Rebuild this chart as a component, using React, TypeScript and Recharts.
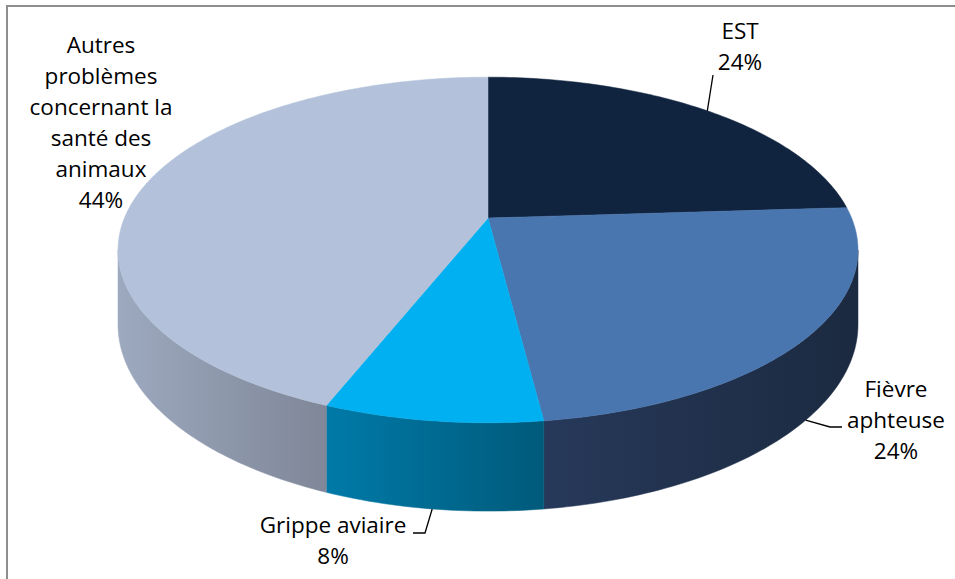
import React from 'react';
import { PieChart, Pie, Cell } from 'recharts';

// categories and their shares (in %)
const CATEGORIES = ['EST', 'Fièvre aphteuse', 'Grippe aviaire', 'Autres problèmes concernant la santé des animaux'];
const SHARES = [24, 24, 8, 44];
// how each label is broken across lines
const LABEL_LINES = [
  ['EST'],
  ['Fièvre', 'aphteuse'],
  ['Grippe aviaire'],
  ['Autres', 'problèmes', 'concernant la', 'santé des', 'animaux'],
];

const TOP_COLORS = ['#10243F', '#4A76B0', '#00B0F0', '#B3C2DA'];
const SIDE_COLORS = [
  ['#0D1D33', '#0A1628'],
  ['#27395A', '#1B2A40'],
  ['#007AA8', '#005A7B'],
  ['#9DA9BF', '#7F8798'],
];

// label boxes (centre x, centre y of first line) and leader bends
const LABEL_LAYOUT = [
  { x: 740, y: 31, leader: [[713, 75]] },
  { x: 896, y: 389, leader: [[842, 427], [830, 427]] },
  { x: 333, y: 525, leader: [[413, 533], [425, 533]] },
  { x: 101, y: 45, leader: null },
];

const FONT = '"Open Sans", sans-serif';
const FONT_SIZE = 22.5;
const LINE_H = 31;

// perspective of the tilted disc
const K = 0.185; // depth foreshortening
const RY = 0.459; // vertical squash
const DEPTH = 0.198; // thickness relative to radius
const RAD = Math.PI / 180;

const data = CATEGORIES.map((name, i) => ({ name, value: SHARES[i] }));

const rim = (cx: number, cy: number, r: number, deg: number, drop: number) => {
  const s = Math.sin(deg * RAD);
  const c = Math.cos(deg * RAD);
  const w = 1 + K * s;
  return [cx + (r * c) / w, cy - (RY * r * s) / w + (drop * DEPTH * r) / w];
};

const arcPoints = (cx: number, cy: number, r: number, a: number, b: number, drop: number) => {
  const n = Math.max(2, Math.ceil(Math.abs(b - a)));
  const pts: number[][] = [];
  for (let k = 0; k <= n; k++) pts.push(rim(cx, cy, r, a + ((b - a) * k) / n, drop));
  return pts;
};

const toPath = (pts: number[][]) => pts.map((p, k) => `${k ? 'L' : 'M'}${p[0].toFixed(2)},${p[1].toFixed(2)}`).join(' ');

const SILHOUETTE = Math.asin(K) / RAD;

const renderSlice = (props: any) => {
  const { cx, cy, outerRadius, startAngle, endAngle } = props;
  const name = props.name ?? props.payload?.name;
  const i = Math.max(0, CATEGORIES.indexOf(name));
  const lo = -180 + SILHOUETTE;
  const hi = -SILHOUETTE;
  const a = Math.max(Math.min(startAngle, endAngle), lo);
  const b = Math.min(Math.max(startAngle, endAngle), hi);
  let side = null;
  if (a < b) {
    const top = arcPoints(cx, cy, outerRadius, a, b, 0);
    const bottom = arcPoints(cx, cy, outerRadius, b, a, 1);
    side = (
      <>
        <defs>
          <linearGradient id={`side-${i}`} x1="0" y1="0" x2="1" y2="0">
            <stop offset="0%" stopColor={SIDE_COLORS[i][0]} />
            <stop offset="100%" stopColor={SIDE_COLORS[i][1]} />
          </linearGradient>
        </defs>
        <path d={toPath([...top, ...bottom]) + ' Z'} fill={`url(#side-${i})`} stroke={`url(#side-${i})`} strokeWidth={0.5} />
      </>
    );
  }
  const face = [[cx, cy], ...arcPoints(cx, cy, outerRadius, startAngle, endAngle, 0)];
  return (
    <g>
      {side}
      <path d={toPath(face) + ' Z'} fill={TOP_COLORS[i]} stroke={TOP_COLORS[i]} strokeWidth={0.5} />
    </g>
  );
};

const renderLabel = (props: any) => {
  const { cx, cy, outerRadius, midAngle, percent, index } = props;
  const layout = LABEL_LAYOUT[index];
  const front = Math.sin(midAngle * RAD) < 0;
  const anchor = rim(cx, cy, outerRadius, midAngle, front ? 1 : 0);
  const lines = [...LABEL_LINES[index], `${Math.round(percent * 100)}%`];
  return (
    <g key={`label-${index}`}>
      {layout.leader && (
        <polyline
          points={[...layout.leader, anchor].map((p) => p.join(',')).join(' ')}
          fill="none"
          stroke="#000"
          strokeWidth={1.3}
        />
      )}
      <text x={layout.x} y={layout.y} textAnchor="middle" fontFamily={FONT} fontSize={FONT_SIZE} fill="#000">
        {lines.map((l, k) => (
          <tspan key={k} x={layout.x} y={layout.y + k * LINE_H + FONT_SIZE * 0.36}>
            {l}
          </tspan>
        ))}
      </text>
    </g>
  );
};

export default function App() {
  return (
    <div style={{ position: 'relative', width: 955, height: 579, overflow: 'hidden', background: '#fff' }}>
      <style>{'body{margin:0}'}</style>
      <div
        style={{
          position: 'absolute',
          left: 6,
          top: 5,
          width: 980,
          height: 620,
          border: '2px solid #8E8E8E',
        }}
      />
      <div style={{ position: 'absolute', left: 0, top: 0 }}>
        <PieChart width={955} height={579} margin={{ top: 0, right: 0, bottom: 0, left: 0 }}>
          <Pie
            data={data}
            dataKey="value"
            nameKey="name"
            cx={488}
            cy={218}
            outerRadius={363.6}
            startAngle={90}
            endAngle={-270}
            stroke="none"
            shape={renderSlice}
            activeShape={renderSlice}
            inactiveShape={renderSlice}
            label={renderLabel}
            labelLine={false}
            isAnimationActive={false}
          >
            {data.map((d, i) => (
              <Cell key={d.name} fill={TOP_COLORS[i]} />
            ))}
          </Pie>
        </PieChart>
      </div>
    </div>
  );
}
